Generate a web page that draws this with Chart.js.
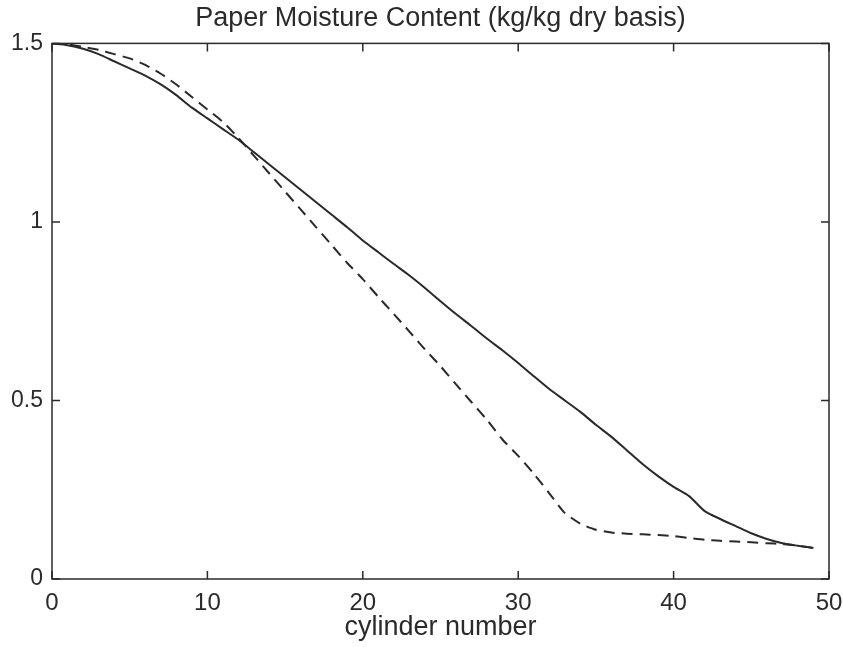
<!DOCTYPE html>
<html>
<head>
<meta charset="utf-8">
<script src="https://cdn.jsdelivr.net/npm/chart.js@4"></script>
<style>
  html, body { margin: 0; padding: 0; background: #fff; }
  #wrap { width: 843px; height: 647px; }
</style>
</head>
<body>
<div id="wrap"><canvas id="chart"></canvas></div>
<script>
const cylinders = [0, 1, 2, 3, 4, 5, 6, 7, 8, 9, 10, 11, 12, 13, 14, 15, 16, 17, 18, 19, 20, 21, 22, 23, 24, 25, 26, 27, 28, 29, 30, 31, 32, 33, 34, 35, 36, 37, 38, 39, 40, 41, 42, 43, 44, 45, 46, 47, 48, 49];

const solidMoisture = [1.5, 1.495, 1.485, 1.47, 1.45, 1.43, 1.41, 1.385, 1.355, 1.32, 1.29, 1.26, 1.23, 1.195, 1.16, 1.125, 1.09, 1.055, 1.02, 0.985, 0.948, 0.915, 0.882, 0.85, 0.815, 0.778, 0.742, 0.708, 0.673, 0.64, 0.605, 0.568, 0.532, 0.5, 0.468, 0.432, 0.398, 0.36, 0.322, 0.288, 0.258, 0.232, 0.19, 0.168, 0.148, 0.128, 0.112, 0.1, 0.093, 0.087];

const dashedMoisture = [1.5, 1.497, 1.49, 1.482, 1.47, 1.458, 1.44, 1.415, 1.385, 1.35, 1.315, 1.28, 1.235, 1.185, 1.135, 1.085, 1.035, 0.985, 0.935, 0.885, 0.84, 0.79, 0.742, 0.693, 0.643, 0.596, 0.545, 0.495, 0.445, 0.39, 0.345, 0.295, 0.24, 0.185, 0.155, 0.138, 0.13, 0.127, 0.125, 0.123, 0.12, 0.115, 0.11, 0.107, 0.105, 0.103, 0.1, 0.098, 0.093, 0.087];

const xTicks = [0, 10, 20, 30, 40, 50];
const yTicks = [0, 0.5, 1, 1.5];

const ink = '#2a2a2a';
const font = 'Liberation Sans, Arial, sans-serif';

function toPoints(values) {
    return cylinders.map((c, i) => ({ x: c, y: values[i] }));
}

// box round the plot and short inward ticks on all four sides
const frame = {
    id: 'frame',
    afterDraw(chart) {
        const ctx = chart.ctx;
        const a = chart.chartArea;
        const xs = chart.scales.x;
        const ys = chart.scales.y;
        ctx.save();
        ctx.strokeStyle = ink;
        ctx.lineWidth = 1.5;
        ctx.strokeRect(a.left, a.top, a.right - a.left, a.bottom - a.top);
        ctx.beginPath();
        xTicks.forEach(v => {
            const px = xs.getPixelForValue(v);
            ctx.moveTo(px, a.bottom); ctx.lineTo(px, a.bottom - 8);
            ctx.moveTo(px, a.top); ctx.lineTo(px, a.top + 8);
        });
        yTicks.forEach(v => {
            const py = ys.getPixelForValue(v);
            ctx.moveTo(a.left, py); ctx.lineTo(a.left + 8, py);
            ctx.moveTo(a.right, py); ctx.lineTo(a.right - 8, py);
        });
        ctx.stroke();
        ctx.restore();
    }
};

const chart = new Chart(document.getElementById('chart'), {
    type: 'line',
    data: {
        datasets: [
            {
                label: 'solid',
                data: toPoints(solidMoisture),
                borderColor: ink,
                borderWidth: 2,
                pointRadius: 0,
                tension: 0.2,
                fill: false
            },
            {
                label: 'dashed',
                data: toPoints(dashedMoisture),
                borderColor: ink,
                borderWidth: 2,
                borderDash: [11, 7],
                pointRadius: 0,
                tension: 0.2,
                fill: false
            }
        ]
    },
    options: {
        animation: false,
        responsive: true,
        maintainAspectRatio: false,
        layout: { padding: { top: 0, right: 14, bottom: 0, left: 0 } },
        plugins: {
            legend: { display: false },
            tooltip: { enabled: false },
            title: {
                display: true,
                fullSize: false,
                text: 'Paper Moisture Content (kg/kg dry basis)',
                color: ink,
                font: { family: font, size: 27, weight: 'normal' },
                padding: { top: 2, bottom: 9 }
            }
        },
        scales: {
            x: {
                type: 'linear',
                min: 0,
                max: 50,
                afterBuildTicks: s => { s.ticks = xTicks.map(v => ({ value: v })); },
                afterFit: s => { s.height = 68; s.paddingLeft = 0; s.paddingRight = 0; },
                grid: { display: false, drawTicks: false },
                border: { display: false },
                ticks: {
                    color: ink,
                    padding: 10,
                    font: { family: font, size: 24 },
                    maxRotation: 0
                },
                title: {
                    display: true,
                    text: 'cylinder number',
                    color: ink,
                    font: { family: font, size: 27 },
                    padding: { top: 0, bottom: 3 }
                }
            },
            y: {
                type: 'linear',
                min: 0,
                max: 1.5,
                afterBuildTicks: s => { s.ticks = yTicks.map(v => ({ value: v })); },
                afterFit: s => { s.width = 52; s.paddingTop = 0; s.paddingBottom = 0; },
                grid: { display: false, drawTicks: false },
                border: { display: false },
                ticks: {
                    color: ink,
                    padding: 9,
                    font: { family: font, size: 23 },
                    callback: v => String(v)
                }
            }
        }
    },
    plugins: [frame]
});
</script>
</body>
</html>
